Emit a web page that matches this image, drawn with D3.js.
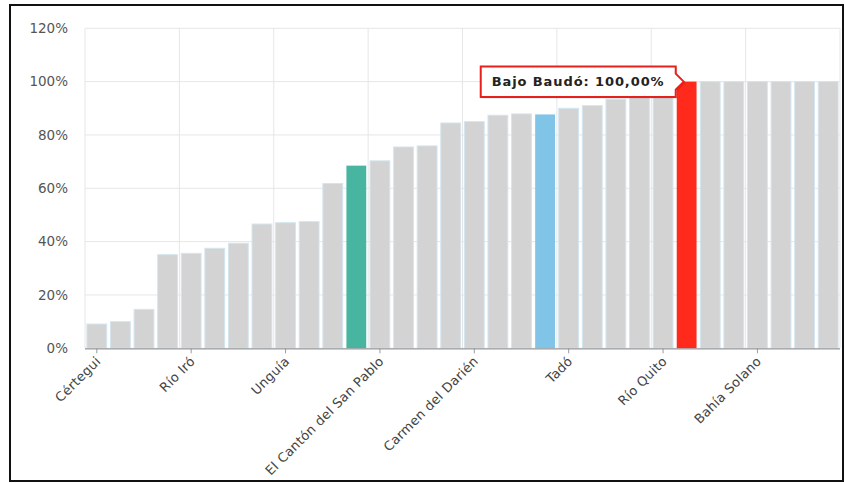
<!DOCTYPE html>
<html>
<head>
<meta charset="utf-8">
<script src="https://cdn.jsdelivr.net/npm/d3@7"></script>
<style>
  html, body { margin: 0; padding: 0; background: #fff; }
  svg { display: block; }
  text { font-family: "DejaVu Sans", Verdana, sans-serif; }
</style>
</head>
<body>
<svg id="chart" width="845" height="483"></svg>
<script>
const categories = [
  "Cértegui", "Atrato", "Lloró", "Bagadó", "Río Iró", "Medio Atrato", "Nóvita", "Sipí",
  "Unguía", "Medio San Juan", "San José del Palmar", "Colombia", "El Cantón del San Pablo", "Alto Baudó", "Medio Baudó", "Condoto",
  "Carmen del Darién", "El Litoral del San Juan", "Istmina", "Chocó", "Tadó", "Bojayá", "Unión Panamericana", "Riosucio",
  "Río Quito", "Bajo Baudó", "Acandí", "Quibdó", "Bahía Solano", "Juradó", "Nuquí", "El Carmen de Atrato"
];
const values = [
  9.1, 10.0, 14.6, 35.1, 35.6, 37.5, 39.4, 46.6,
  47.1, 47.5, 61.8, 68.5, 70.3, 75.5, 75.9, 84.5,
  85.0, 87.4, 87.9, 87.7, 90.0, 91.0, 93.4, 96.3,
  97.2, 100, 100, 100, 100, 100, 100, 100
];
const highlightNames = { "Colombia": "#47b5a0", "Chocó": "#80c4e8", "Bajo Baudó": "#ff2a1c" };
const yTicks = [0, 20, 40, 60, 80, 100, 120];
const labelEvery = 4;
const selected = "Bajo Baudó";

const svg = d3.select("#chart");
const mLeft = 85, mRight = 840, mTop = 28.3, mBottom = 348.3;

const x = d3.scaleBand().domain(categories).range([mLeft, mRight]).paddingInner(0.16).paddingOuter(0.08);
const y = d3.scaleLinear().domain([0, 120]).range([mBottom, mTop]);

// frame
svg.append("rect").attr("x", 10).attr("y", 5).attr("width", 833).attr("height", 476)
  .attr("fill", "none").attr("stroke", "#111").attr("stroke-width", 2);

// horizontal grid
svg.append("g").selectAll("line").data(yTicks).join("line")
  .attr("x1", mLeft).attr("x2", mRight)
  .attr("y1", d => y(d)).attr("y2", d => y(d))
  .attr("stroke", "#e6e6e6").attr("stroke-width", 1);

// vertical grid at every 4th band boundary
const step = (mRight - mLeft) / categories.length;
const vgrid = d3.range(0, categories.length + 1, labelEvery).map(i => mLeft + i * step);
svg.append("g").selectAll("line").data(vgrid).join("line")
  .attr("x1", d => d).attr("x2", d => d)
  .attr("y1", mTop).attr("y2", mBottom)
  .attr("stroke", "#e6e6e6").attr("stroke-width", 1);

// bars
svg.append("g").selectAll("rect").data(categories).join("rect")
  .attr("x", d => x(d))
  .attr("width", x.bandwidth())
  .attr("y", (d, i) => y(values[i]))
  .attr("height", (d, i) => y(0) - y(values[i]))
  .attr("fill", d => highlightNames[d] || "#d3d3d3")
  .attr("stroke", d => highlightNames[d] ? "none" : "#d4e5ef")
  .attr("stroke-width", 1);

// y axis labels
svg.append("g").selectAll("text").data(yTicks).join("text")
  .attr("x", 68).attr("y", d => y(d)).attr("dy", "0.35em")
  .attr("text-anchor", "end").attr("font-size", 13.5).attr("fill", "#555")
  .text(d => d + "%");

// x axis
const xAxis = d3.axisBottom(x)
  .tickValues(categories.filter((d, i) => i % labelEvery === 0))
  .tickSizeInner(5).tickSizeOuter(0).tickPadding(6);
const gx = svg.append("g").attr("transform", `translate(0,${mBottom})`).call(xAxis);
gx.select(".domain").attr("stroke", "#9a9a9a").attr("stroke-width", 1.2)
  .attr("d", `M${mLeft},0.5H${mRight}`);
gx.selectAll(".tick line").attr("stroke", "#9a9a9a");
gx.selectAll(".tick text")
  .attr("font-size", 13).attr("fill", "#444")
  .attr("letter-spacing", 0.3)
  .attr("font-family", "DejaVu Sans, Verdana, sans-serif")
  .attr("text-anchor", "end")
  .attr("transform", "translate(-2,7) rotate(-45)")
  .attr("x", 0).attr("y", 5).attr("dy", "0.35em");

// tooltip
const si = categories.indexOf(selected);
const tipX = x(selected) + 7, tipY = y(values[si]);
const bw = 195, bh = 30.5;
const bx = tipX - 8 - bw, by = tipY - bh / 2;
const path = `M${bx},${by} H${bx + bw} V${tipY - 8} L${tipX},${tipY} L${bx + bw},${tipY + 8} V${by + bh} H${bx} Z`;
svg.append("path").attr("d", path).attr("transform", "translate(1.5,1.5)")
  .attr("fill", "rgba(0,0,0,0.12)");
svg.append("path").attr("d", path).attr("fill", "#fff")
  .attr("stroke", "#e8201c").attr("stroke-width", 2);
svg.append("text").attr("x", bx + 11).attr("y", tipY).attr("dy", "0.35em")
  .attr("font-size", 13).attr("font-weight", "bold").attr("fill", "#222")
  .attr("letter-spacing", 0.9)
  .text(`${selected}: ${values[si].toFixed(2).replace(".", ",")}%`);
</script>
</body>
</html>
